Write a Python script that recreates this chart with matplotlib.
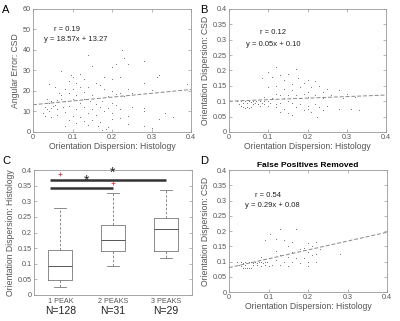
import matplotlib
matplotlib.use("Agg")
import matplotlib.pyplot as plt
import numpy as np

plt.rcParams['font.family'] = ['Liberation Sans', 'DejaVu Sans']

# ---------------- data ----------------
a_x = [0.14, 0.225, 0.23, 0.21, 0.24, 0.2, 0.15, 0.07, 0.12, 0.095, 0.1, 0.18, 0.28, 0.32, 0.315, 0.22, 0.2, 0.13,
       0.09, 0.11, 0.04, 0.16, 0.17, 0.12, 0.39, 0.28, 0.055, 0.08, 0.1, 0.14, 0.18, 0.2, 0.22, 0.24, 0.25, 0.3,
       0.065, 0.07, 0.09, 0.11, 0.13, 0.15, 0.19, 0.21, 0.23, 0.035, 0.045, 0.04, 0.05, 0.055, 0.06, 0.07, 0.08,
       0.1, 0.12, 0.13, 0.145, 0.16, 0.175, 0.2, 0.21, 0.03, 0.035, 0.04, 0.045, 0.05, 0.06, 0.075, 0.09, 0.11,
       0.13, 0.15, 0.17, 0.19, 0.22, 0.25, 0.28, 0.025, 0.03, 0.045, 0.06, 0.08, 0.1, 0.12, 0.14, 0.16, 0.18,
       0.2, 0.22, 0.24, 0.28, 0.335, 0.355, 0.32, 0.09, 0.13, 0.15, 0.17, 0.2, 0.11, 0.14, 0.165, 0.19, 0.08,
       0.24, 0.28, 0.3, 0.185, 0.175]
a_y = [37.5, 40, 36, 33, 33, 31.5, 32, 29.5, 28.5, 28, 27, 27, 34.5, 28, 27, 27, 26, 26,
       25, 24, 23.5, 24, 23, 22, 23.5, 24, 22, 21, 21, 22, 21, 20, 19, 21, 19, 20.5,
       19, 18, 19, 18, 19.5, 18, 17.5, 18.5, 17.5, 16, 15, 14, 14.5, 13, 15.5, 16, 15,
       16, 14, 16, 15, 13.5, 15, 14, 13, 12, 11, 10, 11.5, 12.5, 11, 12, 12.5, 11,
       12, 11, 12, 11.5, 11, 12, 11.5, 9, 8, 7.5, 8.5, 9.5, 8, 7.5, 9, 8.5, 10,
       9, 7, 8, 10, 9, 7.5, 6.5, 6, 5.5, 6, 5, 6.5, 4.5, 3.5, 3, 2.5, 3,
       4, 3, 2, 1.5, 1]
a_fit = (18.57, 13.27)

b_x = [0.12, 0.17, 0.1, 0.11, 0.085, 0.13, 0.15, 0.14, 0.175, 0.2, 0.22, 0.19, 0.16, 0.12, 0.1, 0.18, 0.21, 0.23,
       0.25, 0.14, 0.16, 0.2, 0.24, 0.28, 0.3, 0.12, 0.13, 0.15, 0.17, 0.19, 0.22, 0.26, 0.09, 0.11, 0.14, 0.18,
       0.2, 0.24, 0.29, 0.32, 0.02, 0.03, 0.035, 0.04, 0.045, 0.05, 0.055, 0.06, 0.065, 0.07, 0.08, 0.085, 0.09,
       0.1, 0.105, 0.03, 0.035, 0.04, 0.045, 0.05, 0.055, 0.025, 0.06, 0.075, 0.08, 0.09, 0.1, 0.12, 0.13, 0.15,
       0.16, 0.18, 0.2, 0.22, 0.25, 0.12, 0.14, 0.17, 0.2, 0.23, 0.28, 0.31, 0.33, 0.13, 0.15, 0.19, 0.21, 0.225,
       0.16, 0.24]
b_y = [0.21, 0.205, 0.195, 0.18, 0.175, 0.185, 0.19, 0.17, 0.175, 0.17, 0.165, 0.16, 0.155, 0.15, 0.145, 0.145,
       0.145, 0.15, 0.14, 0.14, 0.135, 0.13, 0.13, 0.135, 0.125, 0.125, 0.12, 0.12, 0.12, 0.125, 0.12, 0.12, 0.115,
       0.11, 0.11, 0.11, 0.115, 0.11, 0.11, 0.115, 0.1, 0.1, 0.095, 0.1, 0.095, 0.1, 0.098, 0.1, 0.095, 0.1, 0.1,
       0.095, 0.1, 0.1, 0.095, 0.085, 0.08, 0.078, 0.08, 0.078, 0.08, 0.09, 0.09, 0.09, 0.085, 0.09, 0.085, 0.09,
       0.095, 0.1, 0.095, 0.09, 0.085, 0.09, 0.085, 0.08, 0.075, 0.08, 0.075, 0.08, 0.075, 0.075, 0.07, 0.065,
       0.06, 0.07, 0.065, 0.048, 0.055, 0.07]
b_fit = (0.05, 0.10)

d_x = [0.13, 0.17, 0.105, 0.12, 0.09, 0.14, 0.16, 0.2, 0.22, 0.15, 0.19, 0.21, 0.18, 0.23, 0.12, 0.16, 0.2, 0.22,
       0.28, 0.13, 0.15, 0.17, 0.19, 0.21, 0.1, 0.08, 0.12, 0.14, 0.16, 0.2, 0.18, 0.22, 0.2, 0.15, 0.13, 0.11,
       0.02, 0.03, 0.035, 0.04, 0.045, 0.05, 0.055, 0.06, 0.065, 0.07, 0.075, 0.08, 0.085, 0.09, 0.095, 0.03,
       0.035, 0.04, 0.045, 0.05, 0.055, 0.025, 0.06, 0.07, 0.08, 0.09, 0.1, 0.04]
d_y = [0.205, 0.205, 0.19, 0.175, 0.17, 0.17, 0.165, 0.16, 0.165, 0.15, 0.145, 0.15, 0.14, 0.14, 0.135, 0.13,
       0.13, 0.125, 0.125, 0.12, 0.115, 0.11, 0.11, 0.12, 0.11, 0.115, 0.105, 0.1, 0.1, 0.1, 0.095, 0.1, 0.085,
       0.085, 0.09, 0.09, 0.1, 0.098, 0.095, 0.1, 0.095, 0.1, 0.097, 0.095, 0.1, 0.095, 0.1, 0.1, 0.095, 0.1,
       0.097, 0.085, 0.08, 0.078, 0.08, 0.078, 0.08, 0.09, 0.088, 0.09, 0.085, 0.088, 0.085, 0.09]
d_fit = (0.29, 0.08)

c_groups = ['1 PEAK', '2 PEAKS', '3 PEAKS']
c_n = ['N=128', 'N=31', 'N=29']
c_whislo = [0.025, 0.093, 0.12]
c_q1 = [0.047, 0.14, 0.14]
c_med = [0.093, 0.175, 0.213]
c_q3 = [0.145, 0.225, 0.247]
c_whishi = [0.28, 0.327, 0.335]
c_fliers = [[0.388], [0.358], []]

# ---------------- styling ----------------
GREY = '#555555'
FRAME = '#999999'
TICK_FS = 5.2
LABEL_FS = 6.2


def style(ax):
    for s in ax.spines.values():
        s.set_color(FRAME)
        s.set_linewidth(0.6)
    ax.tick_params(direction='in', length=2, width=0.5, color=FRAME, labelsize=TICK_FS,
                   labelcolor=GREY, pad=1.5, top=True, right=True)


def fmt(v):
    s = ('%.2f' % v).rstrip('0').rstrip('.')
    return s


fig = plt.figure(figsize=(4.0, 3.21), dpi=100)

# Panel A
axA = fig.add_axes([0.0825, 0.589, 0.395, 0.383])
axA.scatter(a_x, a_y, s=1.2, c='#444444', marker='.', linewidths=0)
xx = np.array([0, 0.4])
axA.plot(xx, a_fit[0] * xx + a_fit[1], ls=(0, (4, 2)), color='#888888', lw=0.7)
axA.set_xlim(0, 0.4)
axA.set_ylim(0, 60)
axA.set_xticks([0, 0.1, 0.2, 0.3, 0.4])
axA.set_xticklabels([fmt(v) for v in [0, 0.1, 0.2, 0.3, 0.4]])
axA.set_yticks(range(0, 61, 10))
axA.set_xlabel('Orientation Dispersion: Histology', fontsize=LABEL_FS, color=GREY, labelpad=1)
axA.set_ylabel('Angular Error: CSD', fontsize=LABEL_FS, color=GREY, labelpad=2)
axA.text(0.086, 50, 'r = 0.19', fontsize=5.5, ha='center', va='center', color='#222222')
axA.text(0.108, 45, 'y = 18.57x + 13.27', fontsize=5.5, ha='center', va='center', color='#222222')
style(axA)
fig.text(0.005, 0.985, 'A', fontsize=8, va='top', ha='left')

# Panel B
axB = fig.add_axes([0.5725, 0.589, 0.3925, 0.383])
axB.scatter(b_x, b_y, s=1.2, c='#444444', marker='.', linewidths=0)
axB.plot(xx, b_fit[0] * xx + b_fit[1], ls=(0, (4, 2)), color='#888888', lw=0.7)
axB.set_xlim(0, 0.4)
axB.set_ylim(0, 0.4)
yt = [0, 0.05, 0.1, 0.15, 0.2, 0.25, 0.3, 0.35, 0.4]
axB.set_xticks([0, 0.1, 0.2, 0.3, 0.4])
axB.set_xticklabels([fmt(v) for v in [0, 0.1, 0.2, 0.3, 0.4]])
axB.set_yticks(yt)
axB.set_yticklabels([fmt(v) for v in yt])
axB.set_xlabel('Orientation Dispersion: Histology', fontsize=LABEL_FS, color=GREY, labelpad=1)
axB.set_ylabel('Orientation Dispersion: CSD', fontsize=LABEL_FS, color=GREY, labelpad=2)
axB.text(0.112, 0.324, 'r = 0.12', fontsize=5.5, ha='center', va='center', color='#222222')
axB.text(0.114, 0.286, 'y = 0.05x + 0.10', fontsize=5.5, ha='center', va='center', color='#222222')
style(axB)
fig.text(0.5, 0.985, 'B', fontsize=8, va='top', ha='left')

# Panel C
axC = fig.add_axes([0.085, 0.081, 0.395, 0.389])
stats = []
for i in range(3):
    stats.append(dict(med=c_med[i], q1=c_q1[i], q3=c_q3[i], whislo=c_whislo[i],
                      whishi=c_whishi[i], fliers=c_fliers[i], label=c_groups[i]))
axC.bxp(stats, positions=[1, 2, 3], widths=0.45, showfliers=True,
        boxprops=dict(color='#777777', lw=0.6),
        medianprops=dict(color='#555555', lw=0.7),
        whiskerprops=dict(color='#777777', lw=0.6, ls=(0, (3, 2))),
        capprops=dict(color='#777777', lw=0.6),
        flierprops=dict(marker='+', markeredgecolor='#e04040', markersize=2.5, markeredgewidth=0.6))
axC.set_xlim(0.5, 3.5)
axC.set_ylim(0, 0.4)
axC.set_yticks(yt)
axC.set_yticklabels([fmt(v) for v in yt])
axC.set_ylabel('Orientation Dispersion: Histology', fontsize=LABEL_FS, color=GREY, labelpad=2)
style(axC)
axC.tick_params(axis='x', length=0, top=False, labelsize=5.2, pad=2)
axC.plot([0.8, 2.0], [0.343, 0.343], color='#333333', lw=1.8, solid_capstyle='butt')
axC.plot([0.8, 3.0], [0.368, 0.368], color='#333333', lw=1.8, solid_capstyle='butt')
axC.text(1.49, 0.345, '*', fontsize=10, ha='center', va='bottom', color='#222222')
axC.text(2.0, 0.370, '*', fontsize=10, ha='center', va='bottom', color='#222222')
for i in range(3):
    axC.text(i + 1, -0.052, c_n[i], fontsize=7.5, ha='center', va='center', color='#222222')
fig.text(0.005, 0.515, 'C', fontsize=8, va='top', ha='left')

# Panel D
axD = fig.add_axes([0.5725, 0.0903, 0.395, 0.380])
axD.scatter(d_x, d_y, s=1.2, c='#444444', marker='.', linewidths=0)
axD.plot(xx, d_fit[0] * xx + d_fit[1], ls=(0, (4, 2)), color='#888888', lw=0.7)
axD.set_xlim(0, 0.4)
axD.set_ylim(0, 0.4)
axD.set_xticks([0, 0.1, 0.2, 0.3, 0.4])
axD.set_xticklabels([fmt(v) for v in [0, 0.1, 0.2, 0.3, 0.4]])
axD.set_yticks(yt)
axD.set_yticklabels([fmt(v) for v in yt])
axD.set_xlabel('Orientation Dispersion: Histology', fontsize=LABEL_FS, color=GREY, labelpad=1)
axD.set_ylabel('Orientation Dispersion: CSD', fontsize=LABEL_FS, color=GREY, labelpad=2)
axD.set_title('False Positives Removed', fontsize=6, fontweight='bold', pad=2)
axD.text(0.0975, 0.317, 'r = 0.54', fontsize=5.5, ha='center', va='center', color='#222222')
axD.text(0.11, 0.283, 'y = 0.29x + 0.08', fontsize=5.5, ha='center', va='center', color='#222222')
style(axD)
fig.text(0.5, 0.515, 'D', fontsize=8, va='top', ha='left')

fig.savefig('out.png', dpi=100)
